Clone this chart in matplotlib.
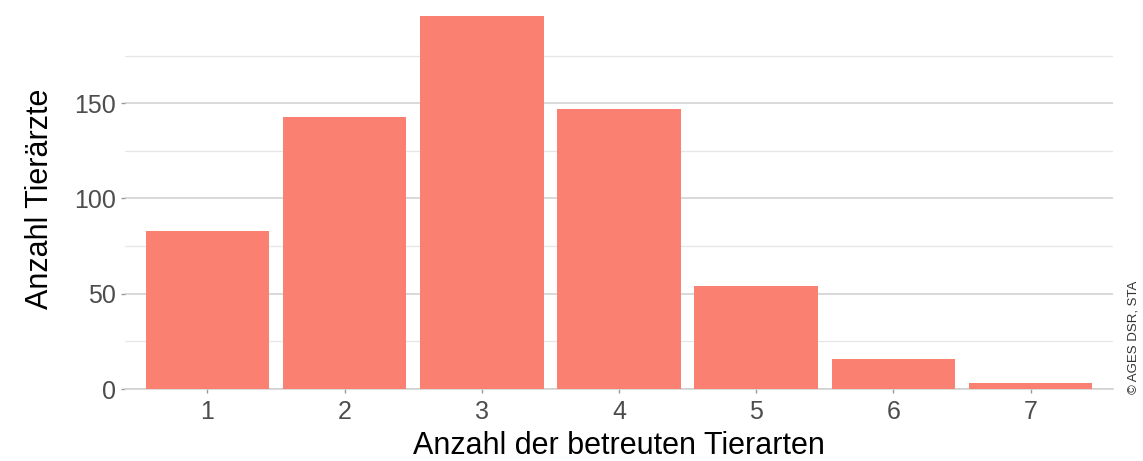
import matplotlib.pyplot as plt
from matplotlib.ticker import FixedLocator

plt.rcParams['font.family'] = ['Liberation Sans', 'DejaVu Sans']

# number of animal species looked after vs. number of vets
arten = [1, 2, 3, 4, 5, 6, 7]
tieraerzte = [83, 143, 196, 147, 54, 16, 3]
y_major = [0, 50, 100, 150]
y_minor = [25, 75, 125, 175]

fig = plt.figure(figsize=(11.43, 4.61), dpi=100)
ax = fig.add_axes([125/1143, 1 - 389/461, (1113 - 125)/1143, (389 - 8)/461])

ax.bar(arten, tieraerzte, width=0.9, color='#FA8072', zorder=3)

ax.set_xlim(0.4, 7.6)
ax.set_ylim(0, 200)
ax.set_xticks(arten)
ax.yaxis.set_major_locator(FixedLocator(y_major))
ax.yaxis.set_minor_locator(FixedLocator(y_minor))

ax.grid(axis='y', which='major', color='#cfcfcf', linewidth=1.1, zorder=0)
ax.grid(axis='y', which='minor', color='#e6e6e6', linewidth=0.9, zorder=0)
ax.grid(axis='x', visible=False)

for side in ['top', 'right', 'left']:
    ax.spines[side].set_visible(False)
ax.spines['bottom'].set_color('#cfcfcf')
ax.spines['bottom'].set_linewidth(1.1)

ax.tick_params(axis='both', which='major', colors='#9a9a9a', labelcolor='#4d4d4d',
               labelsize=18, length=3, width=1)
ax.tick_params(axis='y', which='minor', length=0)
ax.tick_params(axis='x', pad=5)

ax.set_xlabel('Anzahl der betreuten Tierarten', fontsize=22, labelpad=5)
ax.set_ylabel('Anzahl Tierärzte', fontsize=22, labelpad=14)

fig.text(1133/1143, 1 - 337/461, '© AGES DSR, STA', rotation=90, fontsize=9.5,
         color='#333333', ha='center', va='center')

fig.savefig('out.png', dpi=100)
